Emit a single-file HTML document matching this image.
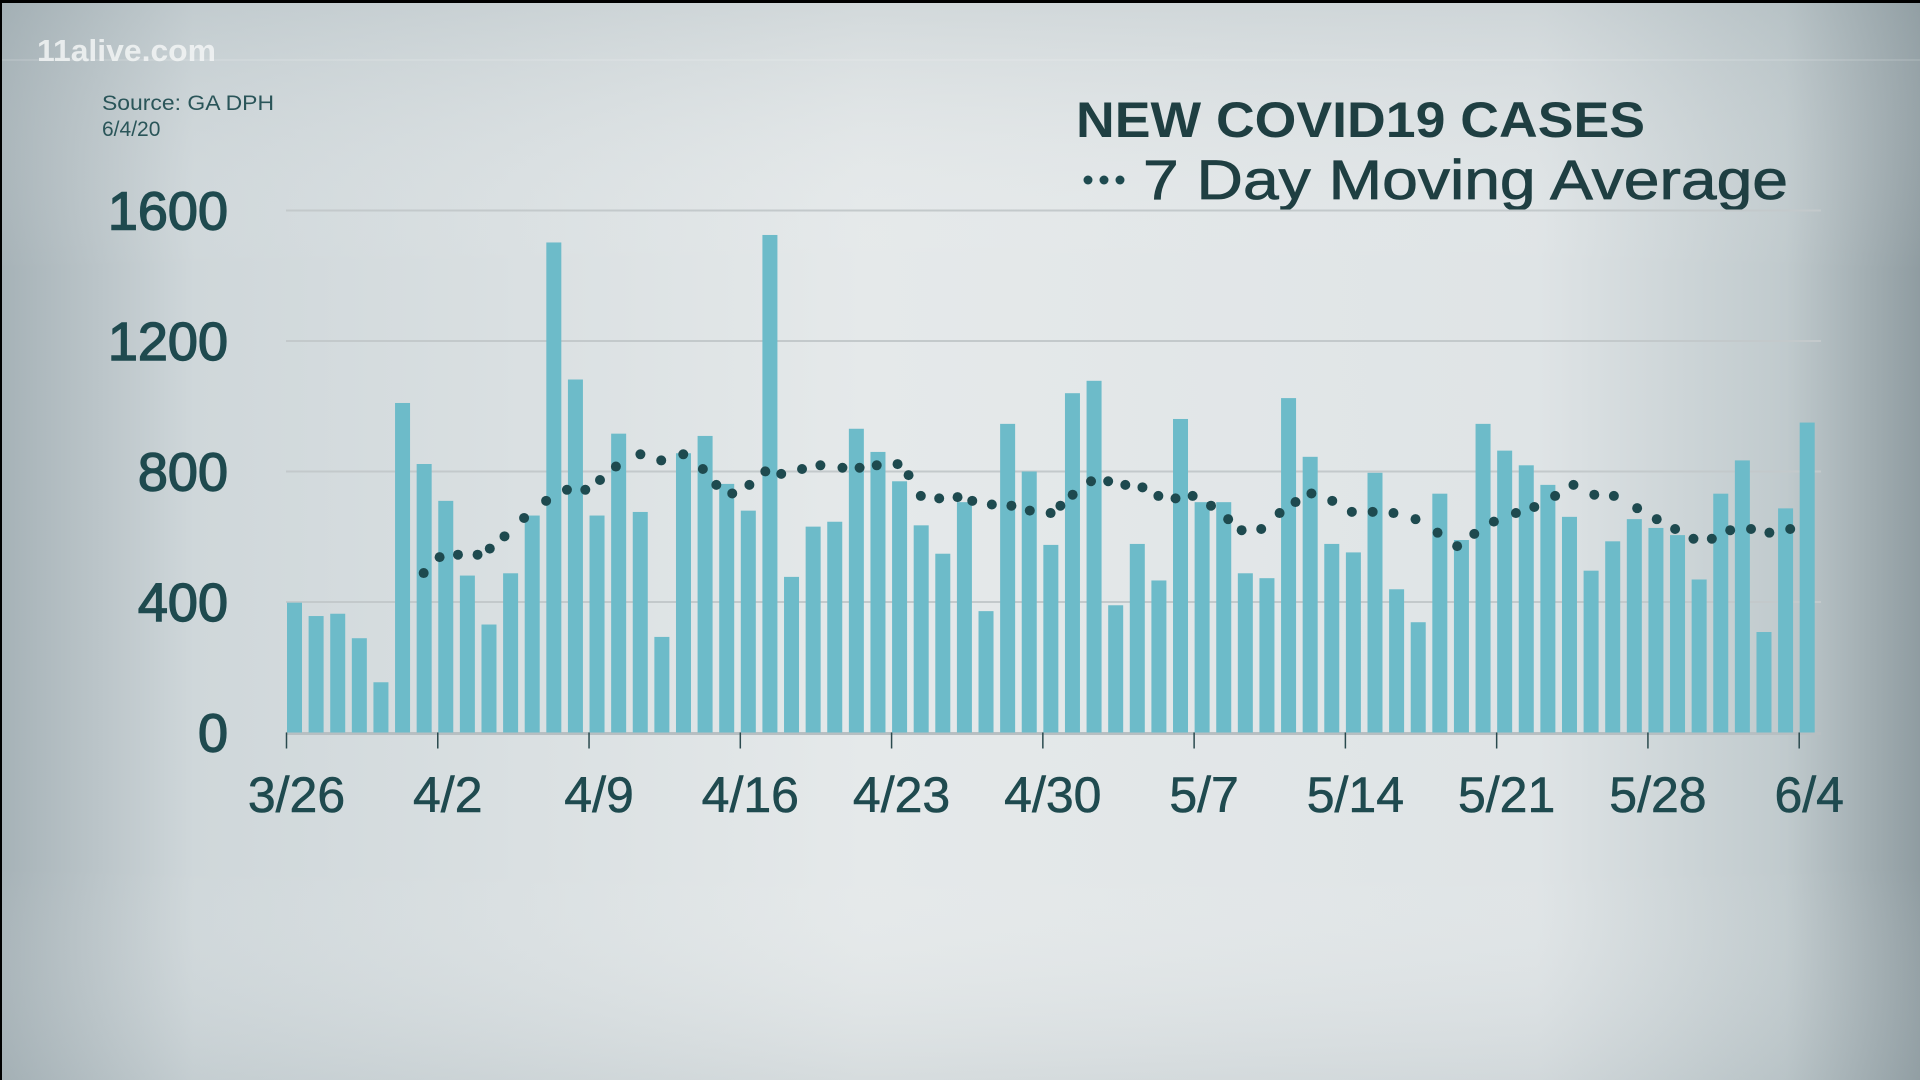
<!DOCTYPE html>
<html><head><meta charset="utf-8"><style>
html,body{margin:0;padding:0;width:1920px;height:1080px;overflow:hidden;background:#000}
svg{display:block}
text{font-family:"Liberation Sans",sans-serif}
</style></head><body>
<svg id="s" width="1920" height="1080" viewBox="0 0 1920 1080" xmlns="http://www.w3.org/2000/svg">
<defs>
<linearGradient id="bg" x1="0" y1="0" x2="1" y2="0">
<stop offset="0" stop-color="#a6b2b7"/>
<stop offset="0.1" stop-color="#cfd7da"/>
<stop offset="0.45" stop-color="#e5e9ea"/>
<stop offset="0.8" stop-color="#dfe4e6"/>
<stop offset="0.93" stop-color="#c0cacd"/>
<stop offset="1" stop-color="#8f9ca1"/>
</linearGradient>
<linearGradient id="vg" x1="0" y1="0" x2="0" y2="1">
<stop offset="0" stop-color="#9aa8ad" stop-opacity="0.25"/>
<stop offset="0.25" stop-color="#ffffff" stop-opacity="0"/>
<stop offset="0.8" stop-color="#ffffff" stop-opacity="0"/>
<stop offset="1" stop-color="#9aa8ad" stop-opacity="0.2"/>
</linearGradient>
</defs>
<rect x="2" y="3" width="1918" height="1077" fill="url(#bg)"/>
<rect x="2" y="3" width="1918" height="1077" fill="url(#vg)"/>
<line x1="2" y1="60" x2="1920" y2="60" stroke="#ffffff" stroke-opacity="0.12" stroke-width="2"/>
<text x="37" y="61" font-size="31" font-weight="bold" fill="#f2f4f5" fill-opacity="0.85" textLength="179" lengthAdjust="spacingAndGlyphs">11alive.com</text>
<text x="102" y="110" font-size="21" fill="#2a5559" textLength="172" lengthAdjust="spacingAndGlyphs">Source: GA DPH</text>
<text x="102" y="136" font-size="21" fill="#2a5559">6/4/20</text>
<text x="1076" y="137" font-size="50" font-weight="bold" fill="#1f3f42" textLength="569" lengthAdjust="spacingAndGlyphs">NEW COVID19 CASES</text>
<circle cx="1088" cy="180" r="4.5" fill="#1e4a4f"/><circle cx="1104" cy="180" r="4.5" fill="#1e4a4f"/><circle cx="1120" cy="180" r="4.5" fill="#1e4a4f"/>
<text x="1143" y="199" font-size="56" fill="#1f3f42" stroke="#1f3f42" stroke-width="0.8" textLength="645" lengthAdjust="spacingAndGlyphs">7 Day Moving Average</text>
<g id="grid"></g>
<g id="bars"></g>
<g id="ma"></g>
<g id="lab" font-size="54" fill="#1f4a4f" stroke="#1f4a4f" stroke-width="1.4"></g>
</svg>
<script>
var NS="http://www.w3.org/2000/svg",s=document.getElementById('s');
function el(p,t,a,txt){var e=document.createElementNS(NS,t);for(var k in a)e.setAttribute(k,a[k]);if(txt!=null)e.textContent=txt;document.getElementById(p).appendChild(e);return e;}
var base=732.5,k=130.5/400,x0=286.5,dx=21.61;
[400,800,1200,1600].forEach(function(v){var y=base-v*k;el('grid','line',{x1:286,x2:1821,y1:y,y2:y,stroke:'#c3c9cb','stroke-width':2});});
[0,400,800,1200,1600].forEach(function(v){el('lab','text',{x:228,y:base-v*k+19,'text-anchor':'end'},v);});
var vals=[398,357,364,289,154,1010,823,710,481,331,488,665,1502,1082,665,916,676,293,856,909,762,680,1525,477,631,646,931,860,770,635,548,706,372,946,800,575,1040,1078,390,578,466,961,706,706,488,473,1025,845,578,552,796,439,338,732,590,946,864,819,759,661,496,586,654,627,605,469,732,834,308,687,950];
vals.forEach(function(v,i){var x=x0+i*dx;el('bars','rect',{x:x+0.5,y:base-v*k,width:15,height:v*k,fill:'#6dbbc9'});});
el('grid','line',{x1:286,x2:1821,y1:base+1,y2:base+1,stroke:'#b7bfc2','stroke-width':3});
var labs=['3/26','4/2','4/9','4/16','4/23','4/30','5/7','5/14','5/21','5/28','6/4'];
labs.forEach(function(l,i){var x=x0+i*7*dx;el('grid','line',{x1:x,x2:x,y1:base,y2:base+16,stroke:'#2a4a4e','stroke-width':1.5});
el('lab','text',{x:x+10,y:812,'text-anchor':'middle','font-size':'50','stroke-width':'0.6'},l);});
var p=[[346,468],[359,455],[374,453],[390,453],[400,448],[412,438],[428,423],[446,409],[463,400],[478,400],[490,392],[503,381],[523,371],[540,376],[558,371],[574,383],[585,396],[598,403],[612,396],[625,385],[638,387],[655,383],[670,380],[688,382],[702,382],[716,380],[733,379],[742,388],[752,405],[767,407],[782,406],[794,409],[810,412],[826,413],[841,417],[858,419],[866,413],[876,404],[891,393],[905,393],[919,396],[933,398],[946,405],[960,407],[974,405],[989,413],[1003,424],[1014,433],[1030,432],[1045,419],[1058,410],[1071,403],[1088,409],[1104,418],[1121,418],[1138,419],[1156,424],[1174,435],[1190,446],[1204,436],[1220,426],[1238,419],[1253,414],[1270,405],[1285,396],[1302,404],[1318,405],[1337,415],[1353,424],[1368,432],[1383,440],[1398,440],[1413,433],[1430,432],[1445,435],[1462,432]];
var f=1920/1568;
p.forEach(function(q){el('ma','circle',{cx:q[0]*f,cy:q[1]*f,r:5,fill:'#1e4a4f'});});
</script>
</body></html>
